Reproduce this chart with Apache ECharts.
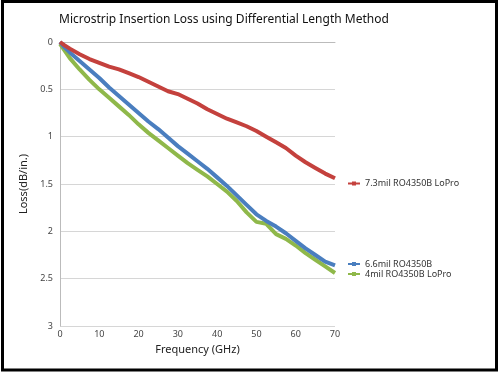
<!DOCTYPE html>
<html>
<head>
<meta charset="utf-8">
<script src="https://cdn.jsdelivr.net/npm/echarts@6/dist/echarts.min.js"></script>
<style>
  html, body { margin: 0; padding: 0; background: #fff; }
  #chart { width: 500px; height: 375px; }
</style>
</head>
<body>
<div id="chart"></div>
<script>
// frequency points (GHz)
var freqs = [0, 1, 2.5, 5, 7.5, 10, 12.5, 15, 17.5, 20, 22.5, 25, 27.5, 30, 32.5, 35, 37.5, 40,
  42.5, 45, 47.5, 50, 52.5, 55, 57.5, 60, 62.5, 65, 67.5, 70];
// loss values (dB/in.)
var loss73 = [0, 0.03, 0.07, 0.13, 0.18, 0.22, 0.26, 0.29, 0.33, 0.37, 0.42, 0.47, 0.52, 0.55, 0.6,
  0.65, 0.71, 0.76, 0.81, 0.85, 0.89, 0.94, 1.0, 1.06, 1.12, 1.2, 1.27, 1.33, 1.39, 1.44];
var loss66 = [0, 0.05, 0.11, 0.2, 0.29, 0.38, 0.48, 0.57, 0.66, 0.75, 0.84, 0.92, 1.01, 1.1, 1.18,
  1.26, 1.34, 1.43, 1.52, 1.62, 1.72, 1.82, 1.89, 1.95, 2.02, 2.1, 2.18, 2.25, 2.32, 2.36];
var loss4 = [0.02, 0.08, 0.17, 0.29, 0.4, 0.5, 0.59, 0.68, 0.77, 0.87, 0.96, 1.04, 1.12, 1.2, 1.28,
  1.35, 1.42, 1.5, 1.58, 1.68, 1.8, 1.9, 1.92, 2.03, 2.08, 2.15, 2.23, 2.3, 2.37, 2.44];
var seriesNames = ["7.3mil RO4350B LoPro", "6.6mil RO4350B", "4mil RO4350B LoPro"];
var seriesColors = ["#c4413d", "#4a7ebf", "#8fb84a"];

function pairs(ys) {
  return freqs.map(function (f, i) { return [f, ys[i]]; });
}

var chart = echarts.init(document.getElementById("chart"));
var font = "Noto Sans";
var option = {
  animation: false,
  textStyle: { fontFamily: font },
  title: {
    text: "Microstrip Insertion Loss using Differential Length Method",
    left: 54,
    top: 9,
    textStyle: { fontSize: 12, fontWeight: "normal", color: "#111", fontFamily: font }
  },
  legend: [
    {
      data: [seriesNames[0]],
      left: 342,
      top: 174,
      itemWidth: 12,
      itemHeight: 5,
      textStyle: { fontSize: 9, color: "#333" }
    },
    {
      data: [seriesNames[1], seriesNames[2]],
      orient: "vertical",
      left: 342,
      top: 254,
      itemGap: 0,
      itemWidth: 12,
      itemHeight: 5,
      textStyle: { fontSize: 9, color: "#333", lineHeight: 10 }
    }
  ],
  grid: { left: 60, top: 42, right: 165, bottom: 49 },
  xAxis: {
    type: "value",
    min: 0,
    max: 70,
    interval: 10,
    name: "Frequency (GHz)",
    nameLocation: "middle",
    nameGap: 16,
    nameTextStyle: { fontSize: 11, color: "#222" },
    axisLine: { lineStyle: { color: "#bbb" } },
    axisTick: { show: false },
    axisLabel: { fontSize: 9, color: "#444", margin: 4 },
    splitLine: { show: false }
  },
  yAxis: {
    type: "value",
    inverse: true,
    min: 0,
    max: 3,
    interval: 0.5,
    name: "Loss(dB/in.)",
    nameLocation: "middle",
    nameGap: 28,
    nameTextStyle: { fontSize: 11, color: "#222" },
    axisLine: { show: true, lineStyle: { color: "#bbb" } },
    axisTick: { show: false },
    axisLabel: { fontSize: 9, color: "#444", margin: 7 },
    splitLine: { lineStyle: { color: "#d6d6d6" } }
  },
  series: [
    { name: seriesNames[0], data: pairs(loss73) },
    { name: seriesNames[1], data: pairs(loss66) },
    { name: seriesNames[2], data: pairs(loss4) }
  ].map(function (s, i) {
    return {
      name: s.name,
      type: "line",
      data: s.data,
      showSymbol: false,
      symbol: "rect",
      symbolSize: 5,
      color: seriesColors[i],
      lineStyle: { width: 4, color: seriesColors[i] },
      z: 3 - i
    };
  }),
  graphic: [
    {
      type: "rect",
      shape: { x: 2.5, y: 1.5, width: 494, height: 368.5 },
      style: { fill: "none", stroke: "#000", lineWidth: 3 }
    }
  ]
};
chart.setOption(option);
</script>
</body>
</html>
